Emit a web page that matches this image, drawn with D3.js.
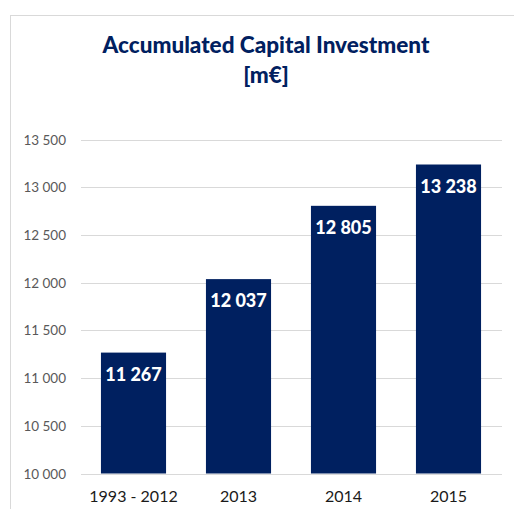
<!DOCTYPE html>
<html><head><meta charset="utf-8">
<script src="https://cdn.jsdelivr.net/npm/d3@7"></script>
<style>body{margin:0;background:#fff}svg{display:block}</style>
</head><body>
<svg id="c" width="514" height="509"></svg>
<script>
const categories = ["1993 - 2012", "2013", "2014", "2015"];
const values = [11267, 12037, 12805, 13238];
const valueLabels = ["11 267", "12 037", "12 805", "13 238"];
const tickValues = [10000, 10500, 11000, 11500, 12000, 12500, 13000, 13500];
const tickLabels = ["10 000", "10 500", "11 000", "11 500", "12 000", "12 500", "13 000", "13 500"];

const svg = d3.select("#c");
const font = "Lato, 'Open Sans', sans-serif";
const navy = "#002060";

// frame
svg.append("rect").attr("x", 10.5).attr("y", 15.5).attr("width", 520).attr("height", 520)
  .attr("fill", "none").attr("stroke", "#d9d9d9").attr("stroke-width", 1);

svg.append("text").attr("x", 266).attr("y", 53).attr("text-anchor", "middle")
  .attr("font-family", font).attr("font-weight", 900).attr("font-size", 22.5).attr("fill", navy)
  .text("Accumulated Capital Investment");
svg.append("text").attr("x", 266).attr("y", 83).attr("text-anchor", "middle")
  .attr("font-family", font).attr("font-weight", 900).attr("font-size", 22.5).attr("fill", navy)
  .text("[m€]");

const x = d3.scaleBand().domain(categories).range([81, 501]).paddingInner(0.38).paddingOuter(0.19);
const y = d3.scaleLinear().domain([10000, 13500]).range([473.5, 139.5]);

const g = svg.append("g");
g.selectAll("line.grid").data(tickValues).join("line").attr("class", "grid")
  .attr("x1", 81).attr("x2", 502).attr("y1", d => Math.round(y(d)) + 0.5).attr("y2", d => Math.round(y(d)) + 0.5)
  .attr("stroke", "#d9d9d9").attr("stroke-width", 1);

g.selectAll("text.tick").data(tickValues).join("text").attr("class", "tick")
  .attr("x", 66).attr("y", d => y(d) + 5).attr("text-anchor", "end")
  .attr("font-family", font).attr("font-size", 13.5).attr("fill", "#595959")
  .text((d, i) => tickLabels[i]);

g.selectAll("rect.bar").data(values).join("rect").attr("class", "bar")
  .attr("x", (d, i) => x(categories[i])).attr("width", x.bandwidth())
  .attr("y", d => y(d)).attr("height", d => y(10000) - y(d))
  .attr("fill", navy);

g.selectAll("text.val").data(values).join("text").attr("class", "val")
  .attr("x", (d, i) => x(categories[i]) + x.bandwidth() / 2).attr("y", d => y(d) + 28)
  .attr("text-anchor", "middle").attr("font-family", font).attr("font-weight", 900)
  .attr("font-size", 18).attr("fill", "#fff")
  .text((d, i) => valueLabels[i]);

g.selectAll("text.cat").data(categories).join("text").attr("class", "cat")
  .attr("x", d => x(d) + x.bandwidth() / 2).attr("y", 502).attr("text-anchor", "middle")
  .attr("font-family", font).attr("font-size", 16).attr("fill", "#1a1a1a")
  .text(d => d);
</script>
</body></html>
